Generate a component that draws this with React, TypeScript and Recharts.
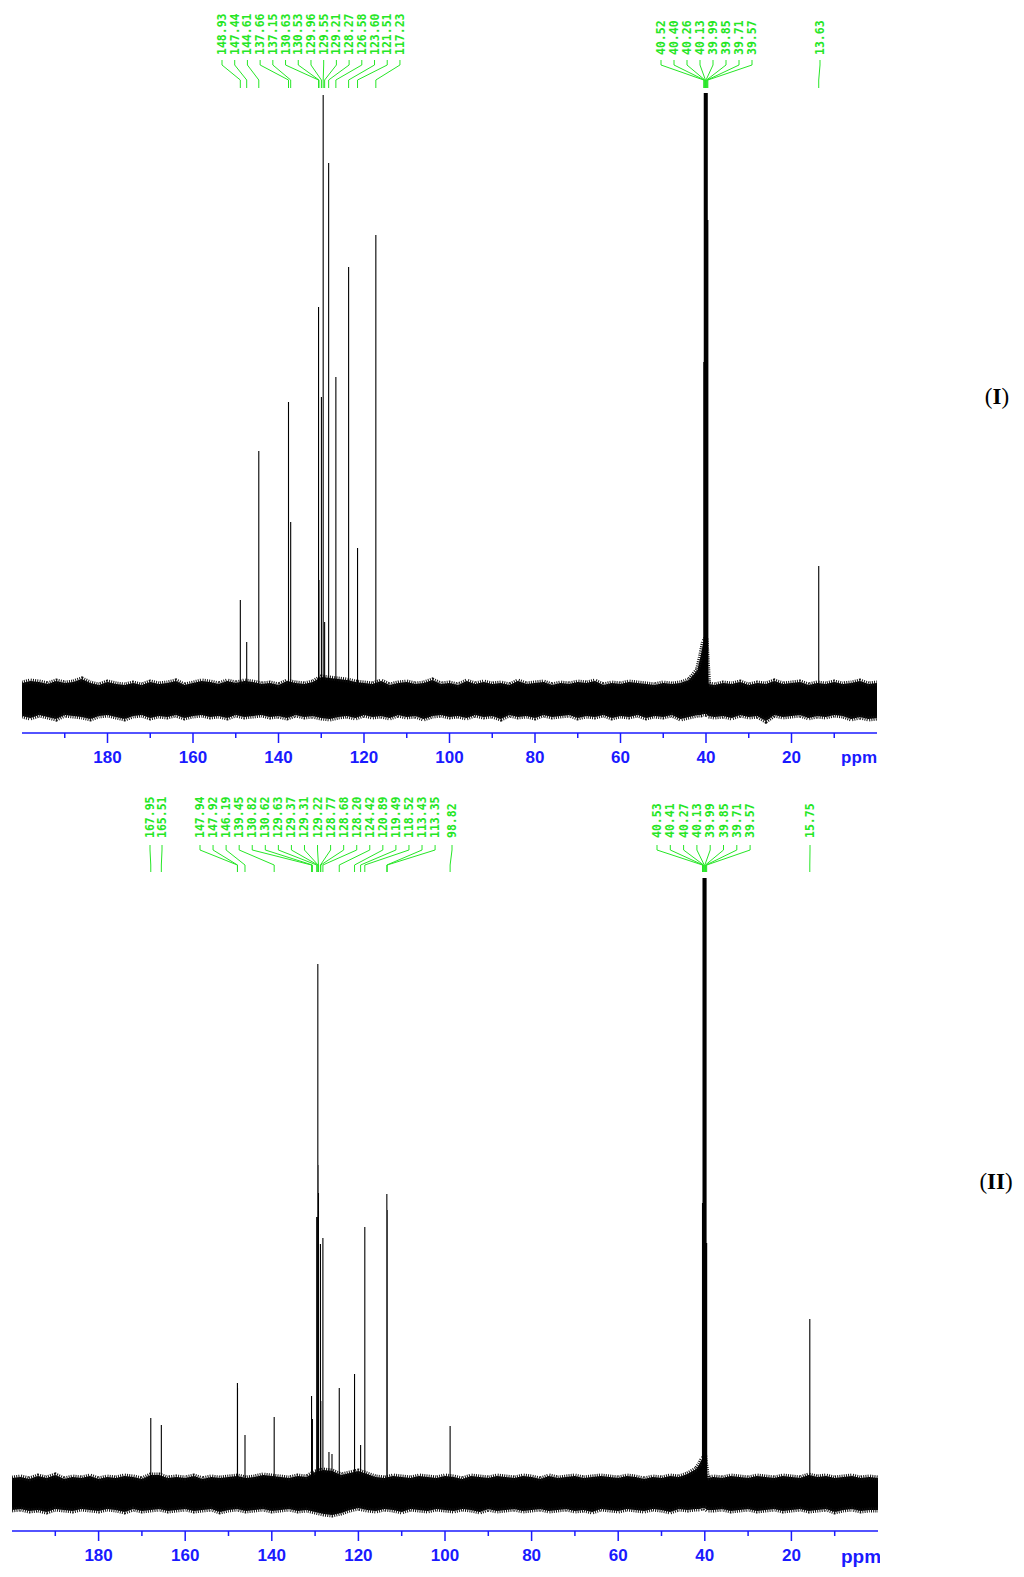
import React from "react"
import { ComposedChart, Area, Line, XAxis, YAxis, ReferenceLine } from "recharts"

const xTicks = [190, 180, 170, 160, 150, 140, 130, 120, 110, 100, 90, 80, 70, 60, 50, 40, 30, 20, 10]

// baseline noise envelope, read every 2 ppm from 200 down to 0
const noisePpm = Array.from({ length: 101 }, (_, i) => 200 - 2 * i)

const noiseHiI = [
  17, 19, 18, 16, 19, 17, 18, 21, 17, 15,
  18, 16, 15, 17, 15, 18, 16, 17, 19, 15,
  17, 19, 18, 16, 19, 17, 19, 18, 16, 17,
  15, 19, 17, 16, 18, 23, 22, 21, 20, 18,
  17, 16, 19, 15, 17, 18, 16, 17, 20, 16,
  17, 15, 19, 16, 18, 16, 17, 15, 19, 16,
  17, 18, 15, 17, 16, 18, 17, 19, 15, 17,
  16, 18, 17, 16, 15, 17, 16, 17, 20, 30,
  62, 15, 17, 16, 18, 15, 17, 16, 19, 16,
  17, 18, 15, 17, 16, 18, 16, 17, 19, 16,
  17,
]
const noiseLoI = [
  -16, -18, -15, -17, -19, -15, -16, -17, -19, -16,
  -15, -17, -19, -16, -15, -18, -16, -17, -15, -18,
  -16, -15, -17, -16, -18, -15, -17, -16, -15, -17,
  -16, -18, -15, -17, -16, -18, -19, -17, -16, -18,
  -15, -17, -16, -18, -15, -17, -16, -19, -16, -15,
  -17, -16, -18, -15, -17, -16, -19, -15, -17, -16,
  -18, -15, -17, -16, -15, -18, -16, -17, -15, -18,
  -16, -17, -15, -18, -16, -17, -15, -19, -17, -15,
  -14, -17, -16, -18, -15, -17, -16, -21, -15, -17,
  -16, -15, -18, -16, -17, -15, -16, -19, -17, -19,
  -18,
]
// rising foot on the low-field side of the DMSO multiplet
const humpPpmI = [41.2, 40.6, 39.4]
const humpHiI = [45, 58, 16]
const humpLoI = [-15, -14, -16]

const noiseHiII = [
  15, 16, 14, 17, 15, 18, 14, 16, 15, 17,
  14, 16, 15, 17, 16, 14, 18, 18, 15, 16,
  15, 17, 14, 16, 15, 16, 17, 15, 16, 18,
  17, 16, 15, 17, 16, 21, 23, 22, 18, 20,
  22, 19, 16, 15, 17, 16, 15, 17, 16, 15,
  17, 16, 14, 17, 16, 15, 17, 16, 15, 17,
  16, 14, 17, 15, 16, 17, 15, 16, 17, 16,
  15, 17, 16, 14, 16, 15, 17, 16, 19, 24,
  36, 16, 15, 17, 16, 15, 17, 16, 15, 17,
  16, 15, 18, 16, 17, 15, 16, 17, 15, 16,
  15,
]
const noiseLoII = [
  -17, -16, -18, -17, -19, -16, -17, -18, -16, -17,
  -18, -16, -17, -19, -16, -18, -17, -16, -18, -17,
  -16, -18, -17, -16, -19, -17, -16, -18, -17, -16,
  -18, -17, -16, -18, -17, -19, -21, -22, -20, -17,
  -15, -17, -18, -16, -17, -19, -16, -17, -18, -16,
  -17, -18, -16, -17, -19, -16, -18, -17, -16, -18,
  -17, -16, -18, -17, -16, -18, -17, -19, -16, -17,
  -18, -16, -17, -18, -16, -17, -19, -16, -17, -16,
  -15, -17, -16, -18, -17, -16, -18, -17, -16, -18,
  -17, -16, -18, -17, -16, -19, -17, -16, -18, -17,
  -17,
]
const humpPpmII = [41.2, 40.6, 39.4]
const humpHiII = [29, 34, 15]
const humpLoII = [-16, -15, -17]

// spectrum (I) peaks
const peakPpmI = [
  148.93, 147.44, 144.61, 137.66, 137.15, 130.63, 130.53, 129.96, 129.55, 129.21,
  128.27, 126.58, 123.6, 121.51, 117.23,
  40.52, 40.4, 40.26, 40.13, 39.99, 39.85, 39.71, 39.57,
  13.63,
]
const peakHeightI = [
  100, 58, 249, 298, 178, 393, 120, 303, 605, 78,
  537, 323, 433, 152, 465,
  338, 607, 607, 607, 607, 607, 607, 480,
  134,
]
const labelsIAromatic = [
  "148.93", "147.44", "144.61", "137.66", "137.15", "130.63", "130.53", "129.96",
  "129.55", "129.21", "128.27", "126.58", "123.60", "121.51", "117.23",
]
const labelsISolvent = ["40.52", "40.40", "40.26", "40.13", "39.99", "39.85", "39.71", "39.57"]
const labelsIAlkyl = ["13.63"]

// spectrum (II) peaks (126.8 and 126.1 are small unlabelled lines)
const peakPpmII = [
  167.95, 165.51, 147.94, 147.92, 146.19, 139.45, 130.82, 130.62, 129.63, 129.37,
  129.31, 129.22, 128.77, 128.68, 128.2, 126.8, 126.1, 124.42, 120.89, 119.49,
  118.52, 113.43, 113.35, 98.82,
  40.53, 40.41, 40.27, 40.13, 39.99, 39.85, 39.71, 39.57,
  15.75,
]
const peakHeightII = [
  75, 68, 110, 105, 58, 76, 97, 74, 276, 529,
  328, 300, 249, 92, 255, 41, 39, 105, 119, 48,
  266, 299, 283, 67,
  290, 615, 615, 615, 615, 615, 615, 250,
  174,
]
const labelsIICarbonyl = ["167.95", "165.51"]
const labelsIIAromatic = [
  "147.94", "147.92", "146.19", "139.45", "130.82", "130.62", "129.63", "129.37", "129.31",
  "129.22", "128.77", "128.68", "128.20", "124.42", "120.89", "119.49", "118.52", "113.43", "113.35",
]
const labelsIIOther = ["98.82"]
const labelsIISolvent = ["40.53", "40.41", "40.27", "40.13", "39.99", "39.85", "39.71", "39.57"]
const labelsIIAlkyl = ["15.75"]

const BLUE = "#1a1aff"
const GREEN = "#26e626"

const bandData = (hi: number[], lo: number[], hPpm: number[], hHi: number[], hLo: number[]) =>
  [
    ...noisePpm.map((ppm, i) => ({ ppm, band: [lo[i], hi[i]] })),
    ...hPpm.map((ppm, i) => ({ ppm, band: [hLo[i], hHi[i]] })),
  ].sort((a, b) => b.ppm - a.ppm)

const stickData = (ppms: number[], heights: number[]) =>
  ppms.flatMap((ppm, i) => [
    { ppm, y: 0 },
    { ppm, y: heights[i] },
    { ppm, y: 0 },
  ])

const AxisTick = (props: any) => {
  const { x, y, payload } = props
  const major = payload.value % 20 === 0
  return (
    <g>
      <line x1={x} y1={y} x2={x} y2={y + (major ? 10 : 5)} stroke={BLUE} strokeWidth={1.5} />
      {major && (
        <text
          x={x}
          y={y + 30}
          textAnchor="middle"
          fill={BLUE}
          fontSize={17}
          fontWeight="bold"
          fontFamily="'Liberation Sans', Arial, sans-serif"
        >
          {payload.value}
        </text>
      )}
    </g>
  )
}

type Geo = { textBottom: number; leadStart: number; bend: number }
type Group = { labels: string[]; x0: number; dx: number }

const leader = (label: string, lx: number, geo: Geo) => (p: any) => {
  const px = p.x1
  const top = Math.min(p.y1, p.y2)
  return (
    <g>
      <text
        x={lx}
        y={geo.textBottom}
        transform={`rotate(-90 ${lx} ${geo.textBottom})`}
        dominantBaseline="central"
        fill={GREEN}
        fontSize={11.5}
        fontWeight="bold"
        fontFamily="'DejaVu Sans Mono', monospace"
      >
        {label}
      </text>
      <polyline
        points={`${lx},${geo.leadStart} ${lx},${geo.leadStart + 5} ${px},${geo.bend} ${px},${top}`}
        fill="none"
        stroke={GREEN}
        strokeWidth={1}
      />
    </g>
  )
}

function Spectrum(props: {
  width: number
  height: number
  margin: { top: number; right: number; bottom: number; left: number }
  yDomain: [number, number]
  band: any[]
  sticks: any[]
  groups: Group[]
  geo: Geo
}) {
  const { width, height, margin, yDomain, band, sticks, groups, geo } = props
  return (
    <ComposedChart width={width} height={height} margin={margin}>
      <XAxis
        type="number"
        dataKey="ppm"
        domain={[0, 200]}
        reversed
        allowDataOverflow
        ticks={xTicks}
        interval={0}
        height={30}
        tickLine={false}
        tickSize={0}
        tickMargin={0}
        axisLine={{ stroke: BLUE, strokeWidth: 1.5 }}
        tick={<AxisTick />}
      />
      <YAxis type="number" domain={yDomain} allowDataOverflow hide />
      <Area
        data={band}
        dataKey="band"
        type="linear"
        stroke="#111"
        strokeWidth={5}
        strokeDasharray="1 1.2"
        fill="#000"
        fillOpacity={1}
        dot={false}
        activeDot={false}
        isAnimationActive={false}
      />
      <Line
        data={sticks}
        dataKey="y"
        type="linear"
        stroke="#000"
        strokeWidth={1.1}
        dot={false}
        activeDot={false}
        isAnimationActive={false}
      />
      {groups.flatMap((g, gi) =>
        g.labels.map((label, i) => (
          <ReferenceLine
            key={`${gi}-${i}`}
            x={parseFloat(label)}
            shape={leader(label, g.x0 + i * g.dx, geo)}
          />
        ))
      )}
    </ComposedChart>
  )
}

export default function App() {
  const groupsI: Group[] = [
    { labels: labelsIAromatic, x0: 222, dx: 12.71 },
    { labels: labelsISolvent, x0: 661, dx: 13.0 },
    { labels: labelsIAlkyl, x0: 820, dx: 0 },
  ]
  const groupsII: Group[] = [
    { labels: labelsIICarbonyl, x0: 150, dx: 12 },
    { labels: labelsIIAromatic, x0: 200, dx: 13.06 },
    { labels: labelsIIOther, x0: 452, dx: 0 },
    { labels: labelsIISolvent, x0: 657, dx: 13.3 },
    { labels: labelsIIAlkyl, x0: 810, dx: 0 },
  ]
  return (
    <div style={{ position: "absolute", left: 0, top: 0, width: 1024, height: 1577, background: "#fff" }}>
      <div style={{ position: "absolute", left: 0, top: 0 }}>
        <Spectrum
          width={900}
          height={775}
          margin={{ top: 88, right: 23, bottom: 12, left: 22 }}
          yDomain={[-33, 612]}
          band={bandData(noiseHiI, noiseLoI, humpPpmI, humpHiI, humpLoI)}
          sticks={stickData(peakPpmI, peakHeightI)}
          groups={groupsI}
          geo={{ textBottom: 55, leadStart: 60, bend: 80 }}
        />
      </div>
      <div style={{ position: "absolute", left: 0, top: 780 }}>
        <Spectrum
          width={880}
          height={797}
          margin={{ top: 92, right: 2, bottom: 16, left: 12 }}
          yDomain={[-38, 621]}
          band={bandData(noiseHiII, noiseLoII, humpPpmII, humpHiII, humpLoII)}
          sticks={stickData(peakPpmII, peakHeightII)}
          groups={groupsII}
          geo={{ textBottom: 58, leadStart: 65, bend: 85 }}
        />
      </div>
      <svg
        width={1024}
        height={1577}
        style={{ position: "absolute", left: 0, top: 0, pointerEvents: "none" }}
      >
        <defs>
          <clipPath id="cut2">
            <rect x={0} y={0} width={880} height={1577} />
          </clipPath>
        </defs>
        <text x={877} y={763} textAnchor="end" fill={BLUE} fontSize={17} fontWeight="bold"
          fontFamily="'Liberation Sans', Arial, sans-serif">ppm</text>
        <text x={841} y={1563} fill={BLUE} fontSize={19} fontWeight="bold" clipPath="url(#cut2)"
          fontFamily="'Liberation Sans', Arial, sans-serif">ppm</text>
        <text x={997} y={404} textAnchor="middle" fontSize={23} fontFamily="'Liberation Serif', 'Times New Roman', serif">
          (<tspan fontWeight="bold">I</tspan>)
        </text>
        <text x={996} y={1189} textAnchor="middle" fontSize={23} fontFamily="'Liberation Serif', 'Times New Roman', serif">
          (<tspan fontWeight="bold">II</tspan>)
        </text>
      </svg>
    </div>
  )
}
